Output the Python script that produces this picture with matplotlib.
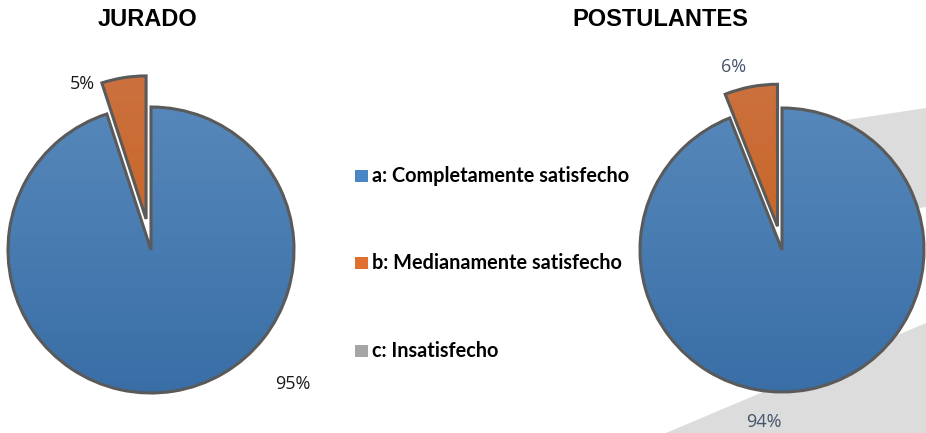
import numpy as np
import matplotlib
matplotlib.use("Agg")
import matplotlib.pyplot as plt
from matplotlib.patches import Polygon, Rectangle
from matplotlib.colors import LinearSegmentedColormap

# data
categories = ["a: Completamente satisfecho", "b: Medianamente satisfecho", "c: Insatisfecho"]
jurado = [95, 5, 0]
postulantes = [94, 6, 0]
titles = ["JURADO", "POSTULANTES"]

colors = ["#4a86c6", "#e07030", "#a5a5a5"]
grad = [("#5b8bbd", "#386ea6"), ("#cc7240", "#c55a11"), ("#b0b0b0", "#959595")]
edge = "#5a5a5a"

W, H = 926, 433
fig = plt.figure(figsize=(W / 100, H / 100), dpi=100)


def px(pts):
    return [(x / W, 1 - y / H) for x, y in pts]


# grey decoration behind the right pie
fig.patches.append(Polygon(px([(820, 124), (926, 108), (926, 207), (820, 223)]),
                           closed=True, transform=fig.transFigure, fc="#dcdcdc", ec="none", zorder=-1))
fig.patches.append(Polygon(px([(666, 433), (926, 323), (926, 433)]),
                           closed=True, transform=fig.transFigure, fc="#dcdcdc", ec="none", zorder=-1))

K = 1.45  # axes half-size in pie radii


def draw_pie(cx, cy, R, values, explode_b, labels_pos, label_color):
    ax = fig.add_axes([(cx - K * R) / W, 1 - (cy + K * R) / H, 2 * K * R / W, 2 * K * R / H])
    ax.axis("off")
    ax.patch.set_alpha(0)
    vals = [v for v in values if v > 0]
    expl = [0, explode_b][:len(vals)]
    wedges, _ = ax.pie(vals, startangle=90, counterclock=False, explode=expl,
                       colors=colors[:len(vals)], frame=False,
                       wedgeprops=dict(edgecolor=edge, linewidth=2.2))
    for i, w in enumerate(wedges):
        cmap = LinearSegmentedColormap.from_list("g", [grad[i][1], grad[i][0]])
        img = ax.imshow(np.linspace(0, 1, 200).reshape(-1, 1), cmap=cmap, origin="lower",
                        extent=[-1.3, 1.3, -1.05, 1.3], aspect="auto", zorder=0.5)
        img.set_clip_path(w)
        w.set_facecolor("none")
        w.set_zorder(2)
    ax.set_xlim(-K, K)
    ax.set_ylim(-K, K)
    for (x, y), v in zip(labels_pos, vals):
        ax.text(x, y, f"{v}%", ha="center", va="center", fontsize=13,
                family="Open Sans", color=label_color)
    return ax


draw_pie(151, 250, 143, jurado, 0.22, [(0.99, -0.94), (-0.48, 1.16)], "#1a1a1a")
draw_pie(782, 250, 142, postulantes, 0.17, [(-0.13, -1.21), (-0.34, 1.29)], "#44546a")

fig.text(148 / W, 1 - 20 / H, titles[0], ha="center", va="center", fontsize=17,
         fontweight="bold", family="Liberation Sans")
fig.text(660 / W, 1 - 20 / H, titles[1], ha="center", va="center", fontsize=17,
         fontweight="bold", family="Liberation Sans")

# legend
for i, lab in enumerate(categories):
    y = [176, 263, 351][i]
    fig.patches.append(Rectangle((355 / W, 1 - (y + 6) / H), 13 / W, 12 / H,
                                 transform=fig.transFigure, fc=colors[i], ec="none"))
    fig.text(372 / W, 1 - y / H, lab, ha="left", va="center", fontsize=14.3,
             fontweight="bold", family="Lato")

fig.savefig("out.png", dpi=100)
